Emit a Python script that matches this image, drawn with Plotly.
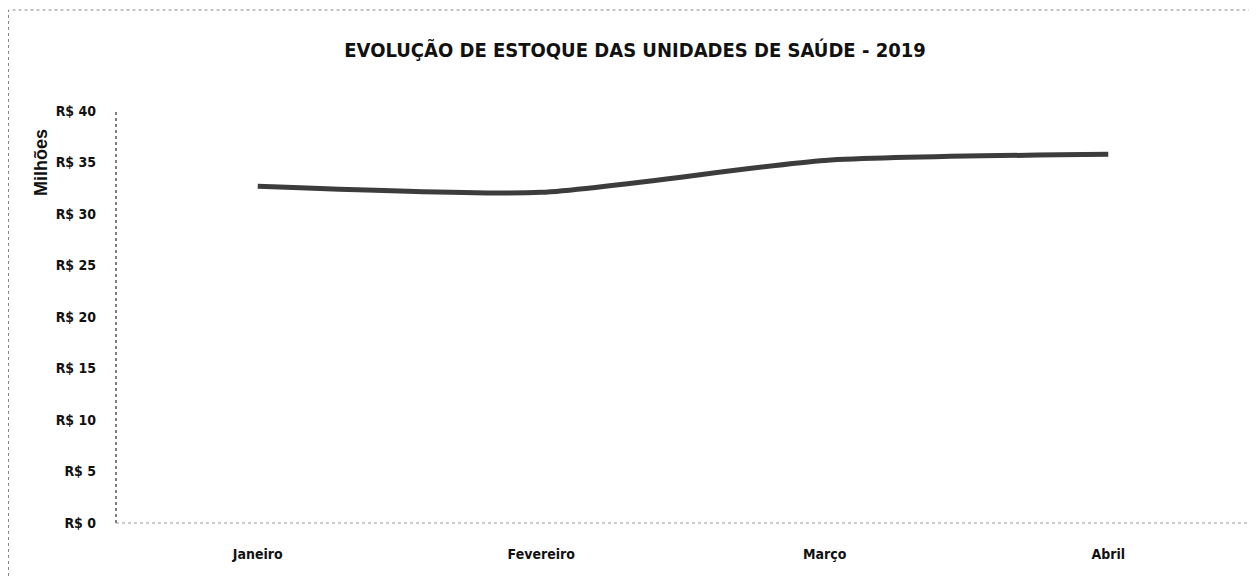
import plotly.graph_objects as go

months = ["Janeiro", "Fevereiro", "Março", "Abril"]
estoque_milhoes = [32.7, 32.1, 35.2, 35.8]
y_ticks = [0, 5, 10, 15, 20, 25, 30, 35, 40]
y_tick_labels = ["R$ 0", "R$ 5", "R$ 10", "R$ 15", "R$ 20", "R$ 25", "R$ 30", "R$ 35", "R$ 40"]

OFF = 8  # page body margin
W, H = 1257 - OFF, 577 - OFF
L, R, T, B = 116 - OFF, 1250 - OFF, 111 - OFF, 523 - OFF

def px_x(p):
    return (p - OFF - L) / (R - L)

def px_y(p):
    return (B - (p - OFF)) / (B - T)

cond = "Liberation Sans Narrow, DejaVu Sans Condensed, Arial Narrow, sans-serif"

fig = go.Figure()
fig.add_trace(go.Scatter(
    x=months, y=estoque_milhoes, mode="lines",
    line=dict(color="#3c3c3c", width=5, shape="spline", smoothing=0.6),
    hoverinfo="x+y", showlegend=False,
))

fig.update_layout(
    width=W, height=H,
    margin=dict(l=L, r=W - R, t=T, b=H - B),
    paper_bgcolor="white", plot_bgcolor="white",
    title=dict(text="EVOLUÇÃO DE ESTOQUE DAS UNIDADES DE SAÚDE - 2019",
               x=(635 - OFF) / W, xanchor="center", y=1 - (50 - OFF) / H, yanchor="middle",
               font=dict(family=cond, size=20, color="#111111", weight="bold")),
    xaxis=dict(range=[-0.5, 3.5], showgrid=False, zeroline=False, showline=False,
               ticks="", tickfont=dict(family=cond, size=14, color="#111111", weight="bold"),
               ticklabelstandoff=21),
    yaxis=dict(range=[0, 40], tickvals=y_ticks, ticktext=y_tick_labels,
               showgrid=False, zeroline=False, showline=False, ticks="",
               tickfont=dict(family=cond, size=14, color="#111111", weight="bold"),
               ticklabelstandoff=19),
    shapes=[
        dict(type="line", xref="paper", yref="paper", x0=0, x1=0, y0=0, y1=1,
             line=dict(color="#555555", width=1.5, dash="dot")),
        dict(type="line", xref="paper", yref="paper", x0=0, x1=1.01, y0=0, y1=0,
             line=dict(color="#999999", width=1.2, dash="dot")),
        dict(type="rect", xref="paper", yref="paper",
             x0=px_x(8.5), x1=px_x(1270), y0=px_y(590), y1=px_y(10),
             line=dict(color="#888888", width=1, dash="dot"), fillcolor="rgba(0,0,0,0)"),
    ],
    annotations=[
        dict(text="<b>Milhões</b>", xref="paper", yref="paper", x=px_x(41), y=px_y(163),
             xanchor="center", yanchor="middle", textangle=-90, showarrow=False,
             font=dict(family="Liberation Sans, Arial, sans-serif", size=18, color="#111111")),
    ],
)

fig.write_html("out.html")
